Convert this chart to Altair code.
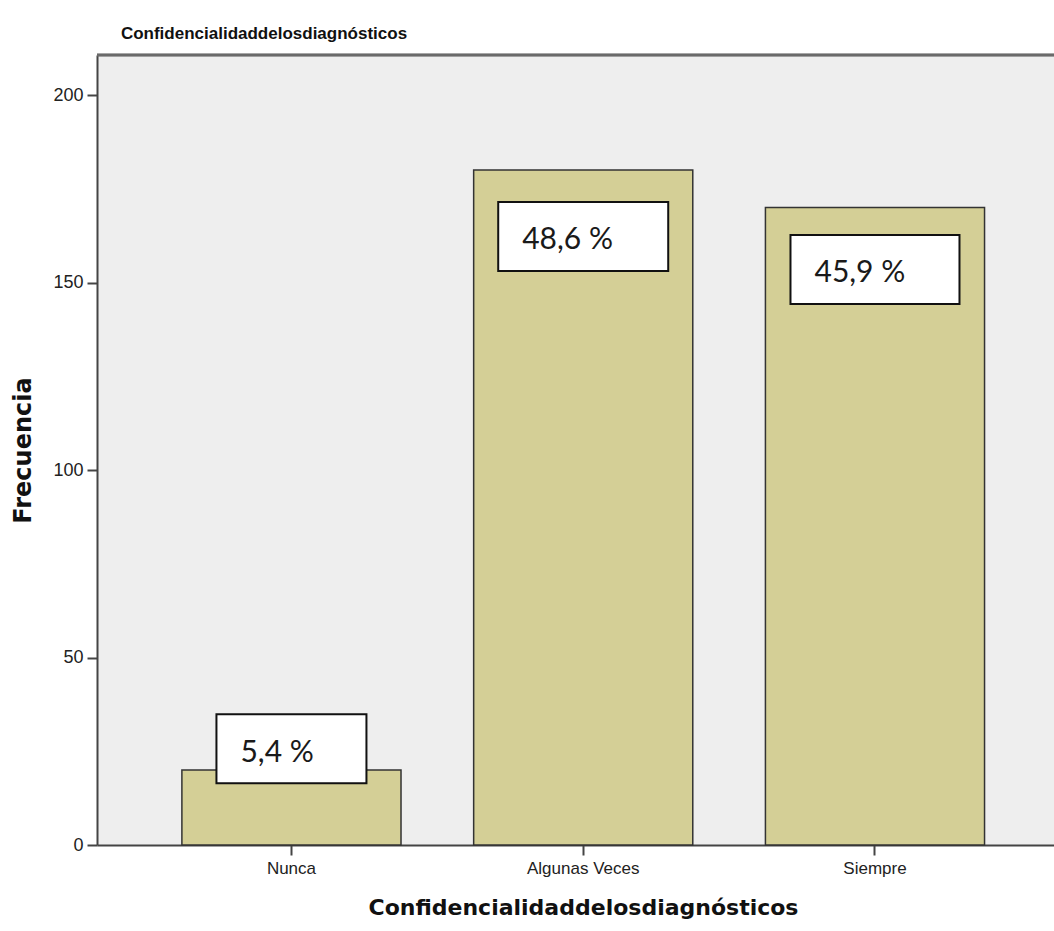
import altair as alt
import pandas as pd

# Frequency table for the variable
categorias = ["Nunca", "Algunas Veces", "Siempre"]
frecuencia = [20, 180, 170]
y_ticks = [0, 50, 100, 150, 200]

total = sum(frecuencia)
porcentaje = [f"{100 * v / total:.1f}".replace(".", ",") + " %" for v in frecuencia]

# Placement of the percentage call-out boxes (centre in frequency units, width in px)
caja_centro = [25.7, 162.3, 153.5]
caja_ancho = [150, 170, 169]
caja_medio_alto = 9.2

df = pd.DataFrame({
    "categoria": categorias,
    "frecuencia": frecuencia,
    "etiqueta": porcentaje,
    "centro": caja_centro,
    "sup": [c + caja_medio_alto for c in caja_centro],
    "inf": [c - caja_medio_alto for c in caja_centro],
})

titulo = "Confidencialidaddelosdiagnósticos"
AXIS_COLOR = "#444444"
SANS = "Liberation Sans"

x_enc = alt.X(
    "categoria:N",
    sort=categorias,
    scale=alt.Scale(paddingInner=0.249, paddingOuter=0.2645, align=0.55),
    axis=alt.Axis(
        labelAngle=0,
        labelFont=SANS,
        labelFontSize=17,
        labelColor="#222222",
        labelPadding=5,
        tickSize=10,
        tickWidth=2,
        tickColor=AXIS_COLOR,
        domainColor=AXIS_COLOR,
        domainWidth=2,
        titleFont="DejaVu Sans",
        titleFontWeight="bold",
        titleFontSize=22,
        titleColor="#111111",
        titleX=486,
        titleY=69,
        titleBaseline="alphabetic",
        titleAlign="center",
    ),
    title=titulo,
)

y_axis = alt.Axis(
    values=y_ticks,
    grid=False,
    labelFont=SANS,
    labelFontSize=18,
    labelColor="#222222",
    labelPadding=4,
    tickSize=10,
    tickWidth=2,
    tickColor=AXIS_COLOR,
    domainColor=AXIS_COLOR,
    domainWidth=2,
    titleFont="DejaVu Sans",
    titleFontWeight="bold",
    titleFontSize=24,
    titleColor="#111111",
    titleAngle=270,
    titleX=-67,
    titleY=395,
    titleAlign="center",
    titleBaseline="alphabetic",
)
y_scale = alt.Scale(domain=[0, 210.67], nice=False, zero=True)


def y_enc(field):
    return alt.Y(f"{field}:Q", scale=y_scale, axis=y_axis, title="Frecuencia")


base = alt.Chart(df)

barras = base.mark_bar(
    color="#D4CF96", stroke="#333333", strokeWidth=1.5
).encode(x=x_enc, y=y_enc("frecuencia"))

borde_superior = base.mark_rule(color="#6a6a6a", strokeWidth=2.5).encode(
    y=alt.value(0)
)

capas = [barras, borde_superior]
for cat, ancho in zip(categorias, caja_ancho):
    sub = base.transform_filter(alt.datum.categoria == cat)
    caja = sub.mark_bar(
        width=ancho, fill="white", stroke="#111111", strokeWidth=2
    ).encode(x=x_enc, y=y_enc("sup"), y2="inf:Q")
    texto = sub.mark_text(
        align="left",
        baseline="middle",
        dx=-ancho / 2 + 24,
        dy=4,
        font="Lato",
        fontSize=30,
        color="#1a1a1a",
    ).encode(x=x_enc, y=y_enc("centro"), text="etiqueta:N")
    capas += [caja, texto]

chart = (
    alt.layer(*capas)
    .properties(
        width=957,
        height=790,
        padding={"left": 97, "top": 55, "right": 0, "bottom": 86},
        autosize=alt.AutoSizeParams(type="none"),
        title=alt.TitleParams(
            titulo,
            anchor="start",
            align="center",
            frame="group",
            dx=167,
            dy=16,
            offset=14,
            baseline="alphabetic",
            font=SANS,
            fontWeight="bold",
            fontSize=17,
            color="#111111",
        ),
        background="white",
    )
    .configure_view(fill="#EEEEEE", stroke=None)
)

chart.save("out.html", embed_options={"renderer": "svg", "actions": False})
